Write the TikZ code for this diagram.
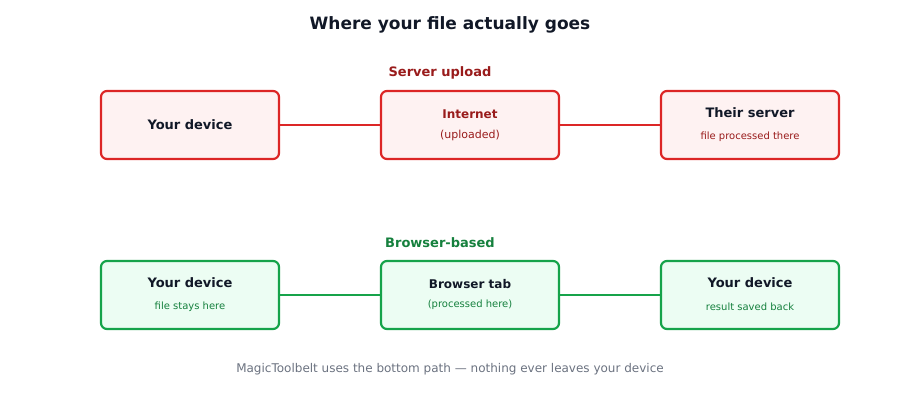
\documentclass[tikz,border=0pt]{standalone}
\usepackage{fontspec}
\setmainfont{DejaVu Sans}
\definecolor{rb}{HTML}{DC2626}\definecolor{rf}{HTML}{FEF2F2}\definecolor{rt}{HTML}{991B1B}
\definecolor{gb}{HTML}{16A34A}\definecolor{gf}{HTML}{ECFDF3}\definecolor{gt}{HTML}{15803D}
\definecolor{dk}{HTML}{111827}\definecolor{gy}{HTML}{6B7280}
\begin{document}
\begin{tikzpicture}[x=1pt,y=-1pt,
 box/.style={draw,line width=2.2pt,rounded corners=6pt,minimum width=178pt,minimum height=68pt,inner sep=0pt},
 rbox/.style={box,draw=rb,fill=rf},gbox/.style={box,draw=gb,fill=gf},
 con/.style={line width=2.2pt},
 t/.style={font=\fontsize{13}{15}\selectfont\bfseries,text=dk},
 s/.style={font=\fontsize{10}{12}\selectfont}]
\useasboundingbox (0,0) rectangle (900,420);
\node[font=\fontsize{17}{20}\selectfont\bfseries,text=dk] (title) at (450,25) {Where your file actually goes};
\node[font=\fontsize{13}{15}\selectfont\bfseries,text=rt] (h1) at (440,73) {Server upload};
\node[font=\fontsize{13}{15}\selectfont\bfseries,text=gt] (h2) at (440,243) {Browser-based};
\node[rbox] (a1) at (190,125) {};
\node[rbox] (a2) at (470,125) {};
\node[rbox] (a3) at (750,125) {};
\draw[con,rb] (a1) -- (a2); \draw[con,rb] (a2) -- (a3);
\node[gbox] (b1) at (190,295) {};
\node[gbox] (b2) at (470,295) {};
\node[gbox] (b3) at (750,295) {};
\draw[con,gb] (b1) -- (b2); \draw[con,gb] (b2) -- (b3);
\node[t] (a1t) at (190,125) {Your device};
\node[t,font=\fontsize{12}{14}\selectfont\bfseries,text=rt] (a2t) at (470,114) {Internet};
\node[s,font=\fontsize{11}{13}\selectfont,text=rt] (a2s) at (470,135) {(uploaded)};
\node[t] (a3t) at (750,113) {Their server};
\node[s,text=rt] (a3s) at (750,137) {file processed there};
\node[t] (b1t) at (190,283) {Your device};
\node[s,text=gt] (b1s) at (190,307) {file stays here};
\node[t,font=\fontsize{12}{14}\selectfont\bfseries] (b2t) at (470,284) {Browser tab};
\node[s,text=gt] (b2s) at (470,305) {(processed here)};
\node[t] (b3t) at (750,283) {Your device};
\node[s,text=gt] (b3s) at (750,307) {result saved back};
\node[font=\fontsize{12}{14}\selectfont,text=gy] (foot) at (450,369) {MagicToolbelt uses the bottom path — nothing ever leaves your device};
\end{tikzpicture}
\end{document}
